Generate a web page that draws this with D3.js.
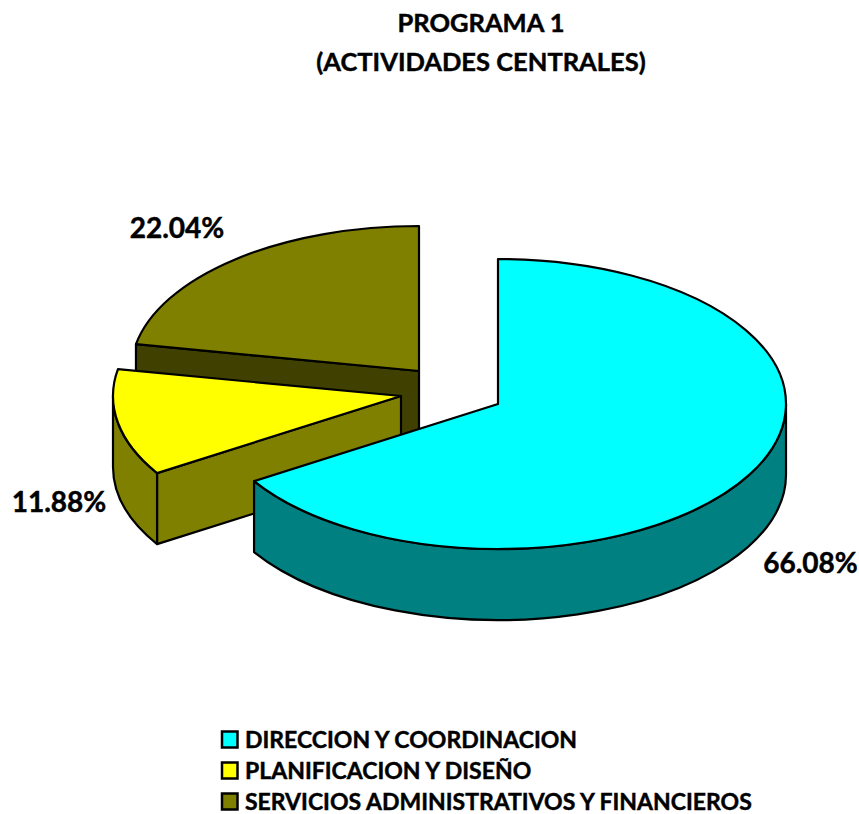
<!DOCTYPE html>
<html><head><meta charset="utf-8">
<script src="https://cdnjs.cloudflare.com/ajax/libs/d3/7.8.5/d3.min.js"></script>
<style>html,body{margin:0;background:#fff}svg{display:block}text{font-family:Lato,"Open Sans",sans-serif;font-weight:700;fill:#000;stroke:#000;stroke-width:.45px}</style>
</head><body><script>
const categories = ["DIRECCION Y COORDINACION","PLANIFICACION Y DISEÑO","SERVICIOS ADMINISTRATIVOS Y FINANCIEROS"];
const values = [66.08,11.88,22.04];
const valueLabels = ["66.08%","11.88%","22.04%"];
const topColors = ["#00ffff","#ffff00","#808000"];
const sideColors = ["#008080","#808000","#404000"];
const titleLines = ["PROGRAMA 1","(ACTIVIDADES CENTRALES)"];

const W=859,H=814,RX=288,RY=145,DEPTH=71;
const centers=[[498,404],[401,396],[419,371]];
const labelPos=[[810.5,563],[59,502],[177,228]];

const svg=d3.select("body").append("svg").attr("width",W).attr("height",H);
const arcs=d3.pie().sort(null).value(d=>d)(values);
const pt=(c,a,dy=0)=>[c[0]+RX*Math.sin(a),c[1]-RY*Math.cos(a)+dy];

function topPath(c,a0,a1){
  const s=pt(c,a0),e=pt(c,a1);
  return `M${c[0]},${c[1]}L${s}A${RX},${RY} 0 ${a1-a0>Math.PI?1:0} 1 ${e}Z`;
}
function rimPath(c,a0,a1){
  const s=pt(c,a0),e=pt(c,a1),s2=pt(c,a0,DEPTH),e2=pt(c,a1,DEPTH);
  const big=a1-a0>Math.PI?1:0;
  return `M${s}A${RX},${RY} 0 ${big} 1 ${e}L${e2}A${RX},${RY} 0 ${big} 0 ${s2}Z`;
}
function edgePath(c,a){
  const s=pt(c,a),s2=pt(c,a,DEPTH);
  return `M${c[0]},${c[1]}L${s}L${s2}L${c[0]},${c[1]+DEPTH}Z`;
}
const g=svg.append("g");
const add=(d,fill)=>g.append("path").attr("d",d).attr("fill",fill).attr("stroke","#000").attr("stroke-width",2.2).attr("stroke-linejoin","round");

// back to front: servicios, planificacion, direccion
add(edgePath(centers[2],arcs[2].startAngle),sideColors[2]);
add(topPath(centers[2],arcs[2].startAngle,arcs[2].endAngle),topColors[2]);

add(edgePath(centers[1],arcs[1].startAngle),sideColors[1]);
add(rimPath(centers[1],arcs[1].startAngle,Math.min(arcs[1].endAngle,1.5*Math.PI)),sideColors[1]);
add(topPath(centers[1],arcs[1].startAngle,arcs[1].endAngle),topColors[1]);

add(rimPath(centers[0],Math.PI/2,arcs[0].endAngle),sideColors[0]);
add(topPath(centers[0],arcs[0].startAngle,arcs[0].endAngle),topColors[0]);

svg.selectAll(".val").data(valueLabels).join("text").attr("class","val")
  .attr("x",(d,i)=>labelPos[i][0]).attr("y",(d,i)=>labelPos[i][1])
  .attr("dy","0.35em").attr("text-anchor","middle").attr("font-size",28).text(d=>d);

svg.selectAll(".title").data(titleLines).join("text").attr("class","title")
  .attr("x",481).attr("y",(d,i)=>32+i*39).attr("text-anchor","middle").attr("font-size",25.5).text(d=>d);

const lg=svg.selectAll(".lg").data(categories).join("g").attr("class","lg")
  .attr("transform",(d,i)=>`translate(222,${739.5+i*31})`);
lg.append("rect").attr("x",0).attr("y",-8).attr("width",15.5).attr("height",16)
  .attr("fill",(d,i)=>topColors[i]).attr("stroke","#000").attr("stroke-width",2.5);
lg.append("text").attr("x",23).attr("y",0).attr("dy","0.35em").attr("font-size",23).text(d=>d);
</script></body></html>
